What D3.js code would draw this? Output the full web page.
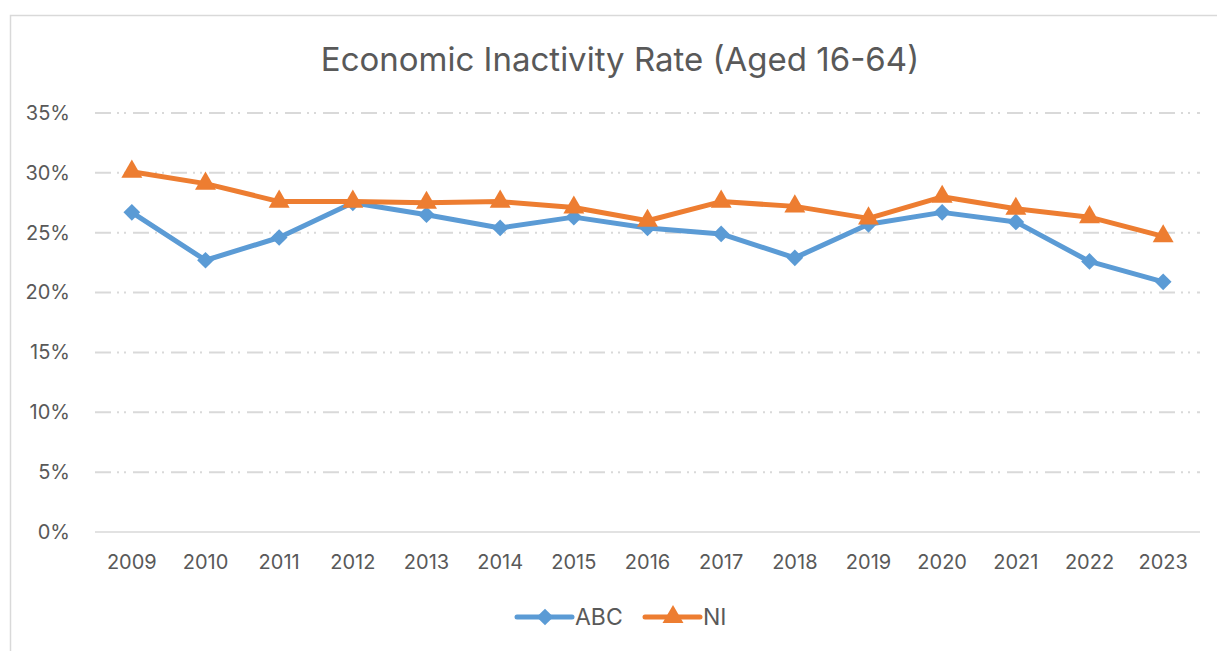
<html>
<head>
<style>
  body { margin: 0; background: #fff; }
  text { font-family: Inter, 'Open Sans', sans-serif; fill: #595959; }
  .grid line { stroke: #d9d9d9; stroke-width: 2; stroke-dasharray: 16 6 2 5 2 7; }
  .domain { display: none; }
</style>
</head>
<body>
<svg id="chart" width="1217" height="651"></svg>
<script src="https://cdn.jsdelivr.net/npm/d3@7"></script>
<script>
const years = ["2009","2010","2011","2012","2013","2014","2015","2016","2017","2018","2019","2020","2021","2022","2023"];
const abc = [26.7,22.7,24.6,27.5,26.5,25.4,26.3,25.4,24.9,22.9,25.7,26.7,25.9,22.6,20.9];
const ni  = [30.1,29.1,27.6,27.6,27.5,27.6,27.1,26.0,27.6,27.2,26.2,28.0,27.0,26.3,24.7];
const yTicks = [0,5,10,15,20,25,30,35];

const svg = d3.select("#chart");
const plotLeft = 95, plotRight = 1200, plotTop = 113, plotBottom = 532;

// outer chart frame
svg.append("rect")
  .attr("x", 10.5).attr("y", 15.5)
  .attr("width", 1230).attr("height", 660)
  .attr("fill", "none").attr("stroke", "#d9d9d9").attr("stroke-width", 1.5);

svg.append("text")
  .attr("x", 620).attr("y", 71)
  .attr("text-anchor", "middle")
  .style("font-size", "33px")
  .text("Economic Inactivity Rate (Aged 16-64)");

const x = d3.scaleBand().domain(years).range([plotLeft, plotRight]);
const y = d3.scaleLinear().domain([0, 35]).range([plotBottom, plotTop]);

// gridlines
const grid = svg.append("g").attr("class", "grid");
grid.selectAll("line").data(yTicks.filter(d => d > 0)).join("line")
  .attr("x1", plotLeft).attr("x2", plotRight)
  .attr("y1", d => y(d)).attr("y2", d => y(d));
svg.append("line")
  .attr("x1", plotLeft).attr("x2", plotRight)
  .attr("y1", y(0)).attr("y2", y(0))
  .attr("stroke", "#d9d9d9").attr("stroke-width", 1.5);

// y axis labels
svg.append("g")
  .attr("transform", `translate(${plotLeft - 22},0)`)
  .call(d3.axisLeft(y).tickValues(yTicks).tickSize(0).tickFormat(d => d + "%"))
  .call(g => g.selectAll("text").style("font-size", "20px"));

// x axis labels
svg.append("g")
  .attr("transform", `translate(0,${plotBottom + 20})`)
  .call(d3.axisBottom(x).tickSize(0))
  .call(g => g.selectAll("text").style("font-size", "20px"));

const cx = d => x(d) + x.bandwidth() / 2;
const line = d3.line().x((d, i) => cx(years[i])).y(d => y(d));

const series = [
  { name: "ABC", values: abc, color: "#5B9BD5", symbol: d3.symbolSquare, size: 140, rot: 45 },
  { name: "NI", values: ni, color: "#ED7D31", symbol: d3.symbolTriangle, size: 190, rot: 0 }
];

series.forEach(s => {
  svg.append("path")
    .datum(s.values)
    .attr("d", line)
    .attr("fill", "none")
    .attr("stroke", s.color)
    .attr("stroke-width", 5)
    .attr("stroke-linejoin", "round");
  svg.append("g").selectAll("path").data(s.values).join("path")
    .attr("transform", (d, i) => `translate(${cx(years[i])},${y(d)}) rotate(${s.rot})`)
    .attr("d", d3.symbol(s.symbol, s.size))
    .attr("fill", s.color);
});

// legend
const legend = svg.append("g");
const legX = [517, 645];
series.forEach((s, i) => {
  const g = legend.append("g").attr("transform", `translate(${legX[i]},617)`);
  g.append("line").attr("x1", 0).attr("x2", 55)
    .attr("stroke", s.color).attr("stroke-width", 5).attr("stroke-linecap", "round");
  g.append("path").attr("transform", `translate(28,0) rotate(${s.rot})`)
    .attr("d", d3.symbol(s.symbol, s.size)).attr("fill", s.color);
  g.append("text").attr("x", 58).attr("y", 8)
    .style("font-size", "23px").text(s.name);
});
</script>
</body>
</html>
